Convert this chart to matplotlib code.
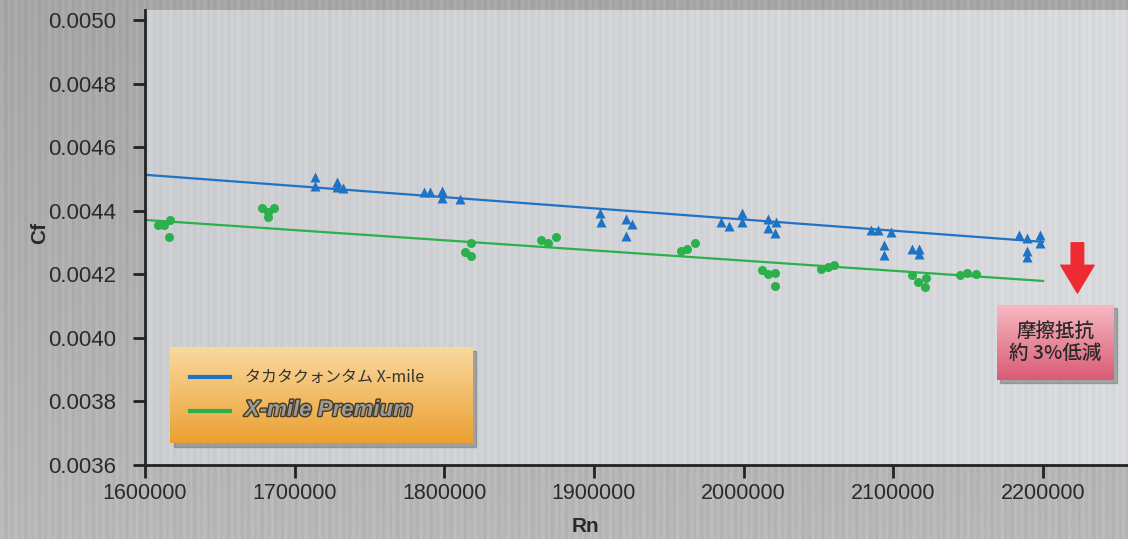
import numpy as np
import matplotlib
matplotlib.use("Agg")
from matplotlib import pyplot as plt
from matplotlib.patches import Rectangle
import matplotlib.patheffects as pe

plt.rcParams['font.family'] = ['Liberation Sans', 'Noto Sans CJK JP', 'DejaVu Sans']

# measured points (Rn, Cf)
rn_std = [1713600, 1713600, 1728300, 1728300, 1732300, 1786400, 1790400, 1798400, 1798400, 1810500,
          1904000, 1904700, 1921400, 1921400, 1925400, 1984900, 1990200, 1998900, 1998900,
          2016300, 2016300, 2021600, 2020900, 2085100, 2089800, 2098400, 2093800, 2093800,
          2112500, 2117100, 2117100, 2184000, 2189300, 2189300, 2189300, 2198000, 2198000]
cf_std = [0.004506, 0.004478, 0.004491, 0.004475, 0.004472, 0.004459, 0.004459, 0.004462, 0.004440, 0.004437,
          0.004393, 0.004365, 0.004374, 0.004321, 0.004358, 0.004365, 0.004352, 0.004393, 0.004365,
          0.004374, 0.004346, 0.004365, 0.004330, 0.004340, 0.004340, 0.004333, 0.004292, 0.004261,
          0.004280, 0.004280, 0.004264, 0.004324, 0.004314, 0.004274, 0.004255, 0.004324, 0.004299]

rn_prem = [1608700, 1612700, 1616700, 1616000, 1678200, 1682200, 1686200, 1682200,
           1817800, 1813800, 1817800, 1864600, 1869300, 1874600, 1958100, 1962100, 1967500,
           2012200, 2016300, 2020900, 2020900, 2051700, 2056300, 2060400,
           2112500, 2116500, 2121800, 2121200, 2144500, 2149200, 2155200]
cf_prem = [0.004355, 0.004355, 0.004371, 0.004318, 0.004409, 0.004396, 0.004409, 0.004380,
           0.004299, 0.004270, 0.004258, 0.004308, 0.004299, 0.004318, 0.004274, 0.004280, 0.004299,
           0.004214, 0.004201, 0.004204, 0.004164, 0.004217, 0.004223, 0.004230,
           0.004198, 0.004176, 0.004189, 0.004160, 0.004198, 0.004204, 0.004201]

# fitted trend lines
fit_rn = [1600000, 2200000]
fit_std = [0.004513, 0.004302]
fit_prem = [0.004371, 0.004179]

xticks = [1600000, 1700000, 1800000, 1900000, 2000000, 2100000, 2200000]
xticklabels = ['1600000', '1700000', '1800000', '1900000', '2000000', '2100000', '2200000']
yticks = [0.0036, 0.0038, 0.0040, 0.0042, 0.0044, 0.0046, 0.0048, 0.0050]

label_std = 'タカタクォンタム X-mile'
label_prem = 'X-mile Premium'
note = '摩擦抵抗\n約 3%低減'
arrow_top, arrow_bottom, arrow_x = 0.004299, 0.004141, 2223000

blue = '#1f73c4'
green = '#2cb04c'

W, H = 1128, 539
fig = plt.figure(figsize=(W / 100, H / 100), dpi=100)

# brushed metal background
xs = np.arange(W)
streak = 0.5 * np.sin(xs * 0.93) + 0.3 * np.sin(xs * 2.31 + 1.0) + 0.2 * np.sin(xs * 0.37 + 2.0)
bg = fig.add_axes([0, 0, 1, 1], zorder=-5)
bg.axis('off')
outer = 0.65 + 0.035 * streak[None, :] + np.linspace(0.0, 0.07, H)[:, None]
bg.imshow(outer, cmap='gray', vmin=0, vmax=1, extent=(0, W, H, 0), aspect='auto')
bg.set_xlim(0, W)
bg.set_ylim(H, 0)

ax = fig.add_axes([145 / W, 1 - 465 / H, (W - 145) / W, 455 / H])
ax.set_facecolor('none')
xlim = (1600000, 2256800)
ylim = (0.0036, 0.0050314)
lum = 0.80 + 0.025 * streak[None, 145:] + np.linspace(0.0, 0.05, W - 145)[None, :]
inner = np.clip(np.dstack([lum, lum + 0.008, lum + 0.02]), 0, 1)
ax.imshow(inner, extent=(xlim[0], xlim[1], ylim[0], ylim[1]), aspect='auto', zorder=0)

l1, = ax.plot(fit_rn, fit_std, color=blue, lw=1.6, zorder=2)
l2, = ax.plot(fit_rn, fit_prem, color=green, lw=1.6, zorder=2)
ax.plot(rn_std, cf_std, '^', color=blue, ms=7, mec='none', zorder=3)
ax.plot(rn_prem, cf_prem, 'o', color=green, ms=6.5, mec='none', zorder=3)

ax.set_xlim(*xlim)
ax.set_ylim(*ylim)
ax.set_xticks(xticks)
ax.set_xticklabels(xticklabels)
ax.set_yticks(yticks)
ax.set_yticklabels(['%.4f' % v for v in yticks])
ax.tick_params(direction='out', length=9, width=2, color='#222222', labelcolor='#2a2a2a')
ax.tick_params(axis='y', labelsize=16, pad=12)
ax.tick_params(axis='x', labelsize=15.5, pad=4)
for s in ['top', 'right']:
    ax.spines[s].set_visible(False)
for s in ['left', 'bottom']:
    ax.spines[s].set_linewidth(2)
    ax.spines[s].set_color('#222222')

fig.text(585 / W, 1 - 527 / H, 'Rn', ha='center', va='center', fontsize=15, fontweight='bold', color='#2a2a2a')
fig.text(40 / W, 1 - 233 / H, 'Cf', ha='center', va='center', fontsize=15, fontweight='bold',
         color='#2a2a2a', rotation=90)

# red arrow
ax.annotate('', xy=(arrow_x, arrow_bottom), xytext=(arrow_x, arrow_top),
            arrowprops=dict(arrowstyle='simple,head_width=1.2,head_length=1.0,tail_width=0.45',
                            color='#ee2a33', mutation_scale=20, shrinkA=0, shrinkB=0), zorder=4)

# legend box with gradient
fig.add_artist(Rectangle(((170 + 4) / W, 1 - (443 + 4) / H), 302 / W, 96 / H,
                         transform=fig.transFigure, color='#6f6f6f', alpha=0.5, zorder=1))
leg_ax = fig.add_axes([170 / W, 1 - 443 / H, 302 / W, 96 / H], zorder=2)
grad = np.linspace(0, 1, 64)[:, None]
orange = np.dstack([0.98 - 0.06 * grad, 0.85 - 0.22 * grad, 0.62 - 0.42 * grad])
leg_ax.imshow(orange, extent=(0, 1, 0, 1), aspect='auto')
leg_ax.axis('off')
leg = leg_ax.legend([l1, l2], [label_std, label_prem], loc='center left', bbox_to_anchor=(0.0, 0.5),
                    frameon=False, handlelength=2.6, handletextpad=1.0, labelspacing=0.9, fontsize=11,
                    borderaxespad=0.9)
for h in leg.get_lines():
    h.set_linewidth(3)
t1, t2 = leg.get_texts()
t1.set_fontfamily(['Noto Sans CJK JP', 'DejaVu Sans'])
t1.set_color('#333333')
t1.set_fontsize(11.5)
t2.set_fontstyle('italic')
t2.set_fontweight('bold')
t2.set_fontsize(16)
t2.set_color('#9a9a9a')
t2.set_path_effects([pe.withStroke(linewidth=2, foreground='#4a3a20')])

# note box
fig.add_artist(Rectangle(((997 + 3) / W, 1 - (380 + 3) / H), 117 / W, 75 / H,
                         transform=fig.transFigure, color='#6f6f6f', alpha=0.5, zorder=1))
note_ax = fig.add_axes([997 / W, 1 - 380 / H, 117 / W, 75 / H], zorder=2)
pink = np.dstack([0.97 - 0.12 * grad, 0.72 - 0.36 * grad, 0.76 - 0.30 * grad])
note_ax.imshow(pink, extent=(0, 1, 0, 1), aspect='auto')
note_ax.axis('off')
note_ax.text(0.5, 0.5, note, ha='center', va='center', fontsize=14, color='#2a2a2a', fontweight='medium',
             linespacing=1.2, family=['Noto Sans CJK JP', 'DejaVu Sans'])

fig.savefig('out.png', dpi=100)
